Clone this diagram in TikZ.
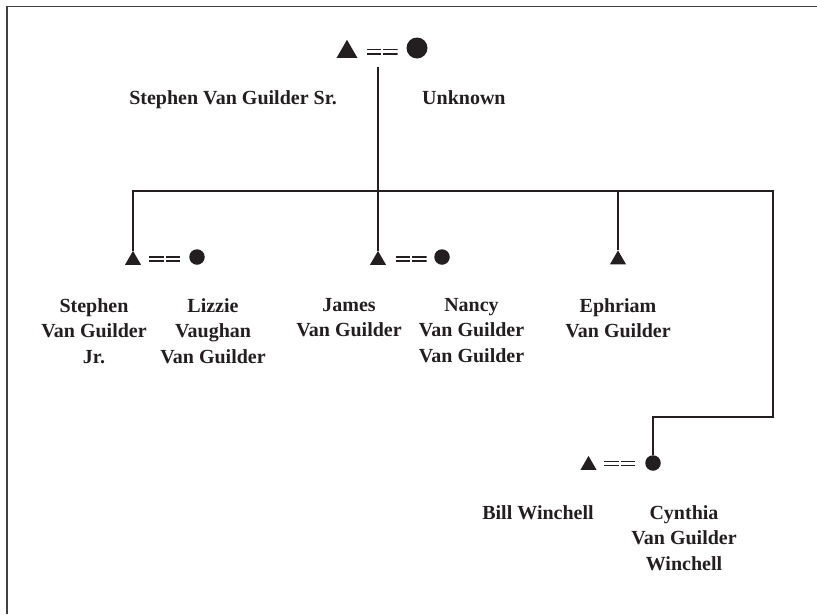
\documentclass[tikz,border=0pt]{standalone}
\usepackage{fontspec}
\setmainfont{Liberation Serif}
\usetikzlibrary{shapes.geometric}
\definecolor{ink}{HTML}{231F20}
\tikzset{
  conn/.style={draw=ink, line width=1.4pt},
  frameline/.style={draw=black!75, line width=1.5pt},
  person/.style={font=\fontsize{20}{25.5}\selectfont\bfseries, align=center, inner sep=0pt, text=ink},
  bigtri/.style={regular polygon, regular polygon sides=3, fill=ink, inner sep=0pt, minimum size=24pt, anchor=south},
  smalltri/.style={regular polygon, regular polygon sides=3, fill=ink, inner sep=0pt, minimum size=18.5pt, anchor=south},
  bigdot/.style={circle, fill=ink, inner sep=0pt, minimum size=21pt},
  smalldot/.style={circle, fill=ink, inner sep=0pt, minimum size=15.5pt},
  eqsign/.style={inner sep=0pt, minimum width=31pt, minimum height=8pt,
    path picture={\draw[line width=1.6pt, ink]
      ([yshift=2.1pt]path picture bounding box.west) -- ([yshift=2.1pt,xshift=-1pt]path picture bounding box.center)
      ([yshift=2.1pt,xshift=1pt]path picture bounding box.center) -- ([yshift=2.1pt]path picture bounding box.east)
      ([yshift=-2.1pt]path picture bounding box.west) -- ([yshift=-2.1pt,xshift=-1pt]path picture bounding box.center)
      ([yshift=-2.1pt,xshift=1pt]path picture bounding box.center) -- ([yshift=-2.1pt]path picture bounding box.east);}}
}
\begin{document}
\begin{tikzpicture}[x=1pt,y=-1pt]
\useasboundingbox (0,0) rectangle (817,614);
% frame (only top and left edges are visible)
\coordinate (frTR) at (817,6.5);
\coordinate (frTL) at (7,6.5);
\coordinate (frBL) at (7,614);
\draw[frameline] (frTR) -- (frTL) -- (frBL);

% generation 1
\node[bigtri] (t0) at (347,58) {};
\node[eqsign] (e0) at (382,51.7) {};
\node[bigdot] (c0) at (417,48) {};
\node[person, anchor=base east] (n0a) at (337,104.3) {Stephen Van Guilder Sr.};
\node[person, anchor=base west] (n0b) at (422,104.3) {Unknown};

% generation 2
\node[smalltri] (t1) at (133,265) {};
\node[eqsign] (e1) at (164.5,259) {};
\node[smalldot] (c1) at (197,257) {};
\node[smalltri] (t2) at (378,265) {};
\node[eqsign] (e2) at (411,259) {};
\node[smalldot] (c2) at (442,257) {};
\node[smalltri] (t3) at (618,264.5) {};

\node[person, anchor=north] (n1a) at (94,298) {Stephen\\Van Guilder\\Jr.};
\node[person, anchor=north] (n1b) at (213,298) {Lizzie\\Vaughan\\Van Guilder};
\node[person, anchor=north] (n2a) at (349,298) {James\\Van Guilder};
\node[person, anchor=north] (n2b) at (471.5,298) {Nancy\\Van Guilder\\Van Guilder};
\node[person, anchor=north] (n3a) at (618,298) {Ephriam\\Van Guilder};

% generation 3
\node[smalltri] (t4) at (588.5,470) {};
\node[eqsign] (e4) at (619.5,463.5) {};
\node[smalldot] (c4) at (653,463) {};
\node[person, anchor=north] (n4a) at (538,505) {Bill Winchell};
\node[person, anchor=north] (n4b) at (684,505) {Cynthia\\Van Guilder\\Winchell};

% connectors
\coordinate (top) at (378,67);
\coordinate (hr) at (773,191);
\coordinate (bend) at (773,417);
\draw[conn] (top) -- (t2.north);
\draw[conn] (t1.north) |- (hr) -- (bend) -| (c4.north);
\draw[conn] (t3.north) -- (t3.north |- hr);
\end{tikzpicture}
\end{document}
